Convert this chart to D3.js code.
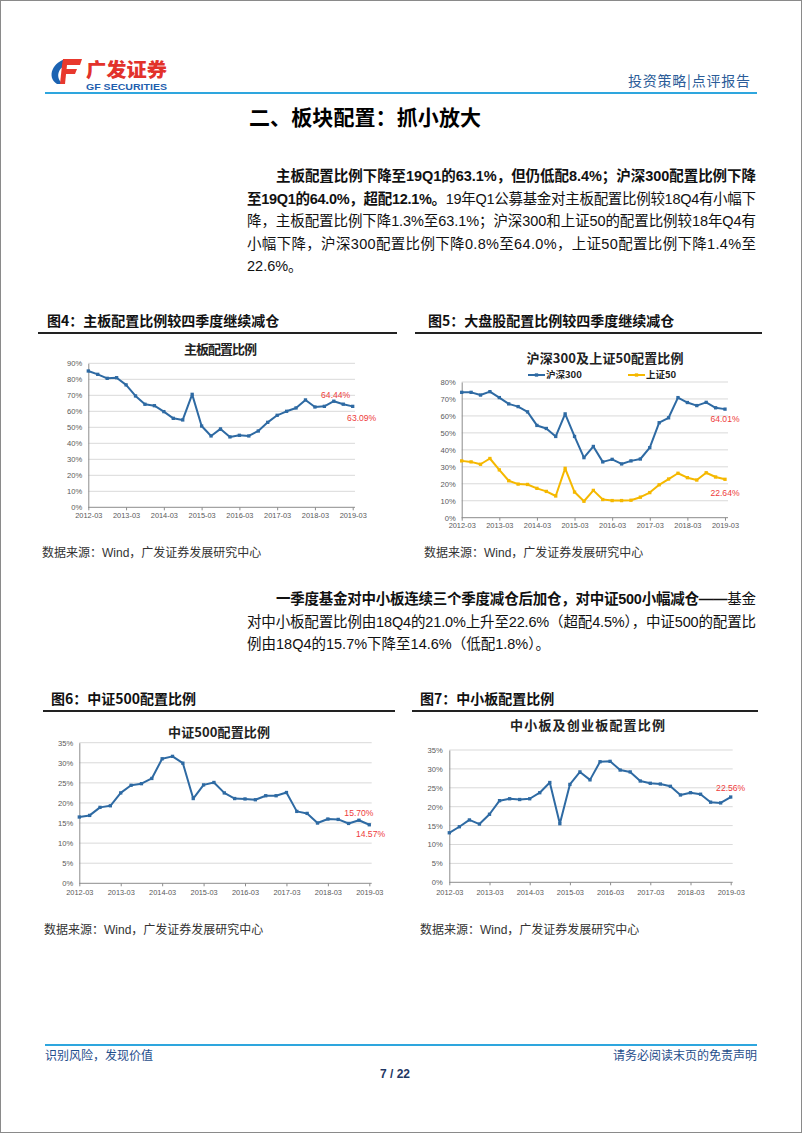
<!DOCTYPE html>
<html><head><meta charset="utf-8">
<script src="https://cdn.jsdelivr.net/npm/d3@7"></script>
<style>
html,body{margin:0;padding:0;background:#fff;}
svg{display:block;}
</style></head><body>
<svg id="page" width="802" height="1133"></svg>
<script>
// ---------------- DATA ----------------
const quarters = ["2012-03","2012-06","2012-09","2012-12","2013-03","2013-06","2013-09","2013-12",
  "2014-03","2014-06","2014-09","2014-12","2015-03","2015-06","2015-09","2015-12",
  "2016-03","2016-06","2016-09","2016-12","2017-03","2017-06","2017-09","2017-12",
  "2018-03","2018-06","2018-09","2018-12","2019-03"];
const mainBoardShare = [85.2,83.1,80.6,81.0,76.5,69.6,64.4,63.5,59.8,55.6,54.6,70.6,50.8,44.6,49.0,44.0,
  45.0,44.6,47.7,53.1,57.5,60.0,62.1,67.1,62.7,63.1,66.3,64.44,63.09];
const hs300Share = [73.9,73.9,72.3,74.3,70.8,67.1,65.5,62.4,54.4,52.6,47.9,61.2,47.9,35.4,42.0,32.9,
  34.4,31.7,33.5,34.6,41.3,56.0,58.9,70.8,67.9,66.1,68.0,64.8,64.01];
const sz50Share = [33.5,32.9,31.5,34.9,28.2,21.8,19.8,19.6,17.3,15.5,12.8,29.1,15.1,9.7,16.1,10.7,
  10.1,10.1,10.3,12.1,14.8,19.4,22.8,26.2,23.6,22.2,26.5,24.0,22.64];
const csi500Share = [16.5,16.9,18.9,19.3,22.5,24.4,24.8,26.1,31.0,31.6,29.9,21.1,24.5,25.1,22.5,21.1,
  21.0,20.8,21.8,21.8,22.6,17.9,17.4,15.0,16.0,15.9,14.9,15.70,14.57];
const smeShare = [13.1,14.7,16.5,15.4,18.0,21.6,22.1,21.9,22.1,23.7,26.4,15.5,25.9,29.2,27.1,31.9,
  32.0,29.7,29.2,26.8,26.2,26.0,25.4,23.1,23.7,23.3,21.2,21.0,22.56];
const seriesNames = ["沪深300","上证50"];
const yearTicks = ["2012-03","2013-03","2014-03","2015-03","2016-03","2017-03","2018-03","2019-03"];
const ticks90 = [0,10,20,30,40,50,60,70,80,90];
const ticks80 = [0,10,20,30,40,50,60,70,80];
const ticks35 = [0,5,10,15,20,25,30,35];

// ---------------- STYLE ----------------
const SANS = "'Liberation Sans', Arial, 'Noto Sans CJK SC', sans-serif";
const CJK = "'Noto Sans CJK SC', 'Liberation Sans', sans-serif";
const BLUE = "#2e6aa3", GOLD = "#f5b800", RED = "#ee3b3b", HEADBLUE = "#2ea6de";

const page = d3.select("#page");
page.append("rect").attr("x",0.5).attr("y",0.5).attr("width",801).attr("height",1132)
  .attr("fill","#fff").attr("stroke","#8a8a8a").attr("stroke-width",1);

// ---------------- HEADER ----------------
const logo = page.append("g");
logo.append("path").attr("d","M67 59 C53 61 46 77 57 84 L63 84 C55 78 57 67 70 63 Z").attr("fill","#1b63b2");
logo.append("path").attr("d","M63 59 L82 59 L80 65 L62 65 Z").attr("fill","#e8382d");
logo.append("path").attr("d","M63 69 L77 69 L75 74 L62 74 Z").attr("fill","#e8382d");
logo.append("path").attr("d","M62 65 L67 65 L65 84 L60 84 Z").attr("fill","#e8382d");
page.append("text").attr("x",86).attr("y",77).text("广发证券")
  .style("font-family",CJK).style("font-weight",900).style("font-size","19px").attr("fill","#e2322b")
  .attr("textLength",81).attr("lengthAdjust","spacingAndGlyphs");
page.append("text").attr("x",86).attr("y",90).text("GF SECURITIES")
  .style("font-family",SANS).style("font-weight",700).style("font-size","9.5px").attr("fill","#1f5fae")
  .attr("textLength",81).attr("lengthAdjust","spacingAndGlyphs");
page.append("text").attr("x",750).attr("y",81).attr("dy","0.36em").attr("text-anchor","end").text("投资策略|点评报告")
  .style("font-family",CJK).style("font-size","14px").attr("fill","#2b5c98")
  .attr("textLength",122).attr("lengthAdjust","spacing");
page.append("line").attr("x1",45).attr("x2",757).attr("y1",93).attr("y2",93)
  .attr("stroke",HEADBLUE).attr("stroke-width",2);

page.append("text").attr("x",249).attr("y",117).attr("dy","0.36em").text("二、板块配置：抓小放大")
  .style("font-family",CJK).style("font-weight",700).style("font-size","21px").attr("fill","#000")
  .attr("textLength",232).attr("lengthAdjust","spacing");

// ---------------- BODY TEXT ----------------
function bodyLine(x, y, segs, len) {
  const t = page.append("text").attr("x",x).attr("y",y).attr("dy","0.36em")
    .style("font-family",SANS).style("font-size","14.5px").attr("fill","#111");
  segs.forEach(s => t.append("tspan").style("font-weight", s[0] ? 700 : 400).text(s[1]));
  if (len) t.attr("textLength",len).attr("lengthAdjust","spacing");
}
bodyLine(276,176,[[1,"主板配置比例下降至19Q1的63.1%，但仍低配8.4%；沪深300配置比例下降"]],480);
bodyLine(247,198.5,[[1,"至19Q1的64.0%，超配12.1%。"],[0,"19年Q1公募基金对主板配置比例较18Q4有小幅下"]],509);
bodyLine(247,221,[[0,"降，主板配置比例下降1.3%至63.1%；沪深300和上证50的配置比例较18年Q4有"]],509);
bodyLine(247,243.5,[[0,"小幅下降，沪深300配置比例下降0.8%至64.0%，上证50配置比例下降1.4%至"]],509);
bodyLine(247,266,[[0,"22.6%。"]],0);

bodyLine(276,599,[[1,"一季度基金对中小板连续三个季度减仓后加仓，对中证500小幅减仓——"],[0,"基金"]],480);
bodyLine(247,621.5,[[0,"对中小板配置比例由18Q4的21.0%上升至22.6%（超配4.5%），中证500的配置比"]],509);
bodyLine(247,644,[[0,"例由18Q4的15.7%下降至14.6%（低配1.8%）。"]],0);

// ---------------- CAPTIONS ----------------
function caption(x, y, text, lx1, lx2, ly) {
  page.append("text").attr("x",x).attr("y",y).attr("dy","0.36em").text(text)
    .style("font-family",CJK).style("font-weight",700).style("font-size","14px").attr("fill","#111");
  page.append("line").attr("x1",lx1).attr("x2",lx2).attr("y1",ly).attr("y2",ly)
    .attr("stroke","#222").attr("stroke-width",2);
}
caption(47,321,"图4：主板配置比例较四季度继续减仓",38,397,333);
caption(428,321,"图5：大盘股配置比例较四季度继续减仓",415,762,333);
caption(51,699,"图6：中证500配置比例",43,395,711);
caption(420,699,"图7：中小板配置比例",412,758,711);

function source(x, y) {
  page.append("text").attr("x",x).attr("y",y).attr("dy","0.36em").text("数据来源：Wind，广发证券发展研究中心")
    .style("font-family",SANS).style("font-size","12px").attr("fill","#333");
}
source(42,553); source(424,553); source(44,930); source(420,930);

// ---------------- CHARTS ----------------
function drawChart(cfg) {
  const g = page.append("g");
  const x = d3.scalePoint().domain(quarters).range([cfg.x0, cfg.x1]);
  const y = d3.scaleLinear().domain([0, cfg.yMax]).range([cfg.yBottom, cfg.yTop]);

  g.append("text").attr("x",cfg.titleX).attr("y",cfg.titleY).attr("dy","0.36em").attr("text-anchor","middle")
    .text(cfg.title).style("font-family",CJK).style("font-weight",700).style("font-size","13px").attr("fill","#222")
    .attr("textLength",cfg.titleW).attr("lengthAdjust","spacing");

  g.append("g").selectAll("line").data(cfg.yTicks.filter(t => t > 0)).join("line")
    .attr("x1",cfg.x0).attr("x2",cfg.gridRight).attr("y1",d => y(d)).attr("y2",d => y(d))
    .attr("stroke","#d9d9d9").attr("stroke-width",1);

  const ya = g.append("g").attr("transform",`translate(${cfg.x0},0)`)
    .call(d3.axisLeft(y).tickValues(cfg.yTicks).tickFormat(d => d + "%").tickSize(0).tickPadding(cfg.x0 - cfg.yLabelRight));
  ya.select(".domain").attr("stroke","#8c8c8c");
  ya.selectAll("text").style("font-family",SANS).style("font-size","7.6px").attr("fill","#595959");

  const xa = g.append("g").attr("transform",`translate(0,${cfg.yBottom})`)
    .call(d3.axisBottom(x).tickValues(yearTicks).tickSize(3).tickSizeOuter(0));
  xa.select(".domain").remove();
  xa.selectAll(".tick line").attr("stroke","#8c8c8c");
  xa.selectAll("text").attr("y",cfg.xLabelY - cfg.yBottom).attr("dy","0.36em")
    .style("font-family",SANS).style("font-size","7.4px").attr("fill","#595959");
  g.append("line").attr("x1",cfg.x0).attr("x2",cfg.gridRight).attr("y1",cfg.yBottom).attr("y2",cfg.yBottom)
    .attr("stroke","#8c8c8c").attr("stroke-width",1);

  const line = d3.line().x((d,i) => x(quarters[i])).y(d => y(d));
  cfg.series.forEach(s => {
    g.append("path").datum(s.values).attr("d",line).attr("fill","none")
      .attr("stroke",s.color).attr("stroke-width",2).attr("stroke-linejoin","round");
    g.append("g").selectAll("path").data(s.values).join("path")
      .attr("d",d3.symbol().type(d3.symbolSquare).size(11))
      .attr("transform",(d,i) => `translate(${x(quarters[i])},${y(d)})`)
      .attr("fill",s.color);
  });

  (cfg.notes || []).forEach(n => {
    const v = n.values[n.index];
    g.append("text").attr("x",x(quarters[n.index]) + n.dx).attr("y",y(v) + n.dy).attr("dy","0.36em")
      .attr("text-anchor","middle").text(v.toFixed(2) + "%")
      .style("font-family",SANS).style("font-size","8.6px").attr("fill",RED);
  });

  if (cfg.legend) {
    cfg.legend.forEach(l => {
      g.append("line").attr("x1",l.x).attr("x2",l.x + 17).attr("y1",cfg.legendY).attr("y2",cfg.legendY)
        .attr("stroke",l.color).attr("stroke-width",2);
      g.append("path").attr("d",d3.symbol().type(d3.symbolSquare).size(11))
        .attr("transform",`translate(${l.x + 8.5},${cfg.legendY})`).attr("fill",l.color);
      g.append("text").attr("x",l.x + 18).attr("y",cfg.legendY).attr("dy","0.36em").text(l.name)
        .style("font-family",CJK).style("font-weight",700).style("font-size","9.5px").attr("fill","#222");
    });
  }
}

drawChart({
  title:"主板配置比例", titleX:220.5, titleY:349, titleW:73,
  x0:88.3, x1:352.7, gridRight:355, yTop:363.3, yBottom:507.3, yMax:90, yTicks:ticks90,
  yLabelRight:82.3, xLabelY:515.7,
  series:[{values:mainBoardShare, color:BLUE}],
  notes:[{values:mainBoardShare, index:27, dx:-7.6, dy:-9}, {values:mainBoardShare, index:28, dx:9, dy:11.6}]
});
drawChart({
  title:"沪深300及上证50配置比例", titleX:605, titleY:358.3, titleW:157,
  x0:461.7, x1:725, gridRight:728, yTop:382, yBottom:517.7, yMax:80, yTicks:ticks80,
  yLabelRight:455.7, xLabelY:525.7,
  series:[{values:hs300Share, color:BLUE}, {values:sz50Share, color:GOLD}],
  notes:[{values:hs300Share, index:28, dx:0, dy:9.5}, {values:sz50Share, index:28, dx:0, dy:13.4}],
  legendY:375,
  legend:[{name:seriesNames[0], color:BLUE, x:528}, {name:seriesNames[1], color:GOLD, x:628}]
});
drawChart({
  title:"中证500配置比例", titleX:219, titleY:732, titleW:102,
  x0:79.3, x1:369.3, gridRight:371.7, yTop:742.7, yBottom:883.3, yMax:35, yTicks:ticks35,
  yLabelRight:73.3, xLabelY:892,
  series:[{values:csi500Share, color:BLUE}],
  notes:[{values:csi500Share, index:27, dx:0, dy:-7}, {values:csi500Share, index:28, dx:1.2, dy:9.2}]
});
drawChart({
  title:"中小板及创业板配置比例", titleX:587.5, titleY:725, titleW:155,
  x0:449.3, x1:730.7, gridRight:732.7, yTop:750, yBottom:882.3, yMax:35, yTicks:ticks35,
  yLabelRight:442.7, xLabelY:892,
  series:[{values:smeShare, color:BLUE}],
  notes:[{values:smeShare, index:28, dx:0, dy:-9.5}]
});

// ---------------- FOOTER ----------------
page.append("line").attr("x1",45).attr("x2",757).attr("y1",1045).attr("y2",1045)
  .attr("stroke",HEADBLUE).attr("stroke-width",2);
page.append("text").attr("x",45).attr("y",1056).attr("dy","0.36em").text("识别风险，发现价值")
  .style("font-family",CJK).style("font-size","12px").attr("fill","#1f4e8c");
page.append("text").attr("x",757).attr("y",1056).attr("dy","0.36em").attr("text-anchor","end").text("请务必阅读末页的免责声明")
  .style("font-family",CJK).style("font-size","12px").attr("fill","#1f4e8c");
page.append("text").attr("x",395).attr("y",1074).attr("dy","0.36em").attr("text-anchor","middle").text("7 / 22")
  .style("font-family",SANS).style("font-weight",700).style("font-size","12px").attr("fill","#1f3864");
</script>
</body></html>
